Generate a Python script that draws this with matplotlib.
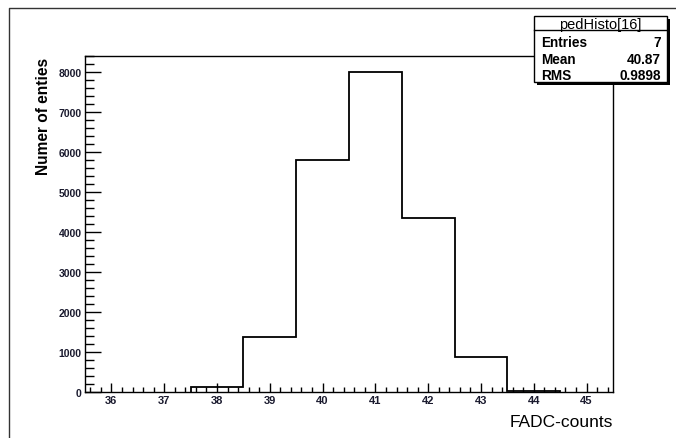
import numpy as np
import matplotlib.pyplot as plt
from matplotlib.lines import Line2D
from matplotlib.patches import Rectangle
from matplotlib.ticker import MultipleLocator

plt.rcParams['font.family'] = ['Liberation Sans', 'DejaVu Sans']

# histogram data (bin edges and counts)
bin_edges = [37.5, 38.5, 39.5, 40.5, 41.5, 42.5, 43.5, 44.5]
counts = [130, 1385, 5810, 8000, 4350, 875, 25]
hist_name = 'pedHisto[16]'
stat_labels = ['Entries', 'Mean', 'RMS']
stat_values = ['7', '40.87', '0.9898']

W, H = 676, 439
fig = plt.figure(figsize=(W / 100, H / 100), dpi=100)
ax = fig.add_axes([85 / W, 1 - 393 / H, (613 - 85) / W, (393 - 57) / H])

ax.stairs(counts, bin_edges, color='black', linewidth=1.3)

ax.set_xlim(35.5, 45.5)
ax.set_ylim(0, 8400)
ax.xaxis.set_major_locator(MultipleLocator(1))
ax.xaxis.set_minor_locator(MultipleLocator(0.2))
ax.yaxis.set_major_locator(MultipleLocator(1000))
ax.yaxis.set_minor_locator(MultipleLocator(200))
ax.set_xticks(np.arange(36, 46, 1))

ax.tick_params(axis='x', which='major', direction='in', length=6.5, width=1, pad=2.5)
ax.tick_params(axis='x', which='minor', direction='in', length=3.5, width=1)
ax.tick_params(axis='y', which='major', direction='in', length=11.5, width=1, pad=2.5)
ax.tick_params(axis='y', which='minor', direction='in', length=6.5, width=1)
for lab in ax.get_xticklabels():
    lab.set_fontsize(8)
    lab.set_fontweight('bold')
    lab.set_color('#1a1a2e')
for lab in ax.get_yticklabels():
    lab.set_fontsize(7.5)
    lab.set_fontweight('bold')
    lab.set_color('#1a1a2e')
for sp in ax.spines.values():
    sp.set_linewidth(1)

# axis titles in ROOT style
fig.text(613 / W, 1 - 423 / H, 'FADC-counts', ha='right', va='center', fontsize=12.5)
fig.text(43 / W, 1 - 58 / H, 'Numer of enties', ha='center', va='top',
         rotation=90, fontsize=11.2, fontweight='bold')

# canvas frame
fig.add_artist(Line2D([9 / W, 9 / W, 1], [0, 1 - 9 / H, 1 - 9 / H],
                      transform=fig.transFigure, color='#333333', linewidth=1))

# stat box with shadow
bx0, bx1, by0, by1 = 534, 667, 17, 83
fig.add_artist(Rectangle(((bx0 + 3) / W, 1 - (by1 + 3) / H), (bx1 - bx0) / W, (by1 - by0) / H,
                         transform=fig.transFigure, facecolor='black', edgecolor='none'))
fig.add_artist(Rectangle((bx0 / W, 1 - by1 / H), (bx1 - bx0) / W, (by1 - by0) / H,
                         transform=fig.transFigure, facecolor='white', edgecolor='black',
                         linewidth=1))
fig.add_artist(Line2D([bx0 / W, bx1 / W], [1 - 31 / H, 1 - 31 / H],
                      transform=fig.transFigure, color='black', linewidth=1))
fig.text((bx0 + bx1) / 2 / W, 1 - 24.5 / H, hist_name, ha='center', va='center', fontsize=10.5)
for i, (lab, val) in enumerate(zip(stat_labels, stat_values)):
    yy = 1 - (43 + 16.5 * i) / H
    fig.text(541 / W, yy, lab, ha='left', va='center', fontsize=9.8, fontweight='bold')
    fig.text(661 / W, yy, val, ha='right', va='center', fontsize=9.8, fontweight='bold')

fig.savefig('out.png', dpi=100)
